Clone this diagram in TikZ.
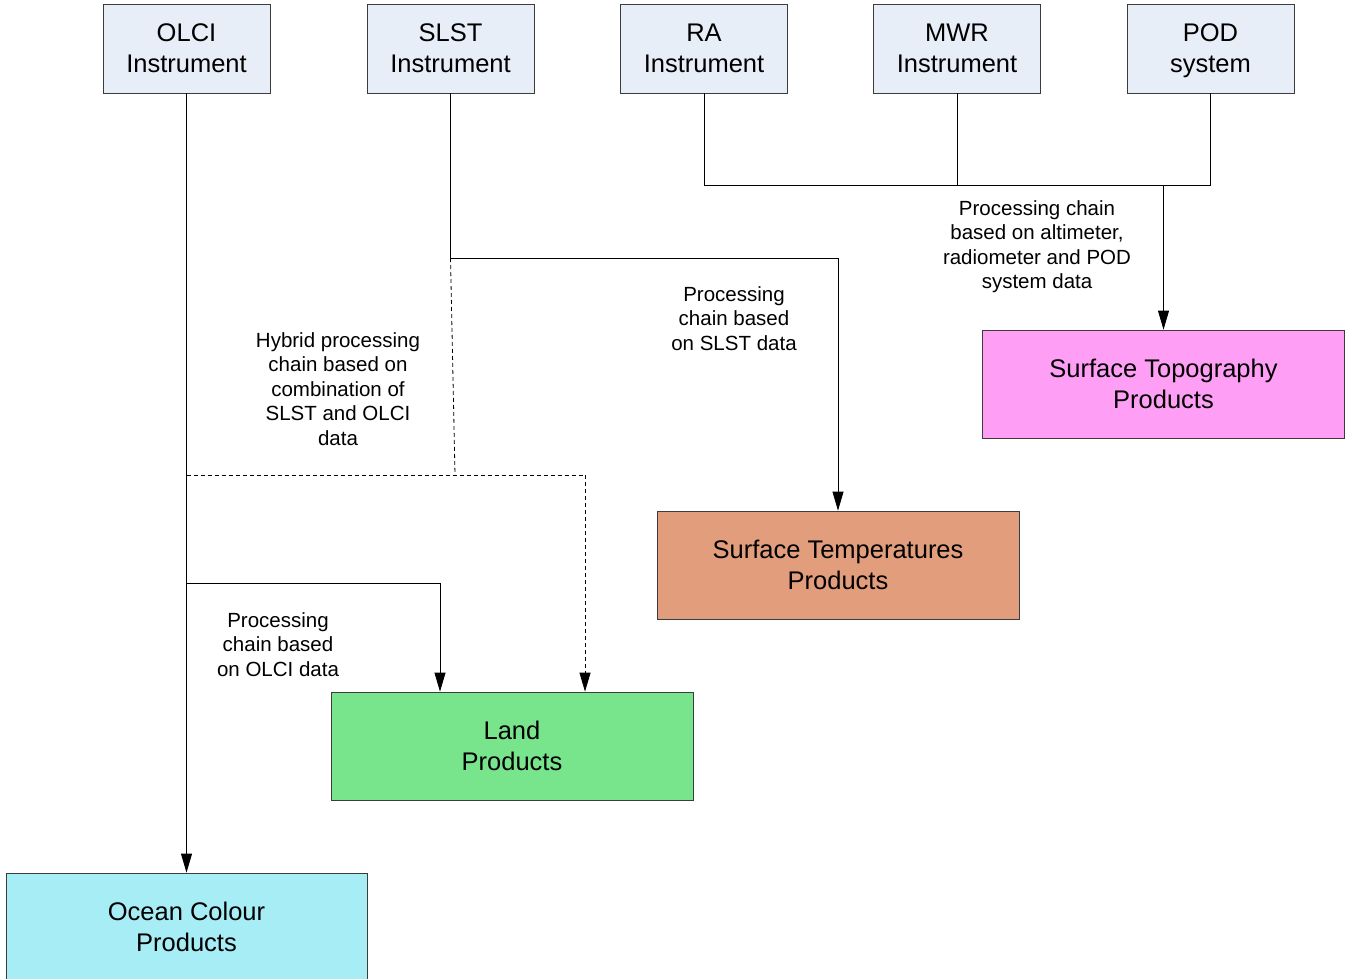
\documentclass[tikz,border=0pt]{standalone}
\usepackage{fontspec}
\setmainfont{Liberation Sans}
\usetikzlibrary{arrows.meta}
\definecolor{instfill}{RGB}{232,238,248}
\definecolor{topofill}{RGB}{255,158,245}
\definecolor{tempfill}{RGB}{226,157,125}
\definecolor{landfill}{RGB}{120,228,140}
\definecolor{oceanfill}{RGB}{166,237,246}
\definecolor{boxline}{RGB}{60,60,60}
\tikzset{
  instbox/.style={draw=boxline, line width=0.8pt, fill=instfill, minimum width=167pt, minimum height=89pt, inner sep=0pt, align=center, font=\fontsize{25.5}{31}\selectfont},
  prodbox/.style={draw=boxline, line width=0.8pt, minimum width=362pt, minimum height=108pt, inner sep=0pt, align=center, font=\fontsize{25.5}{31}\selectfont},
  lbl/.style={align=center, inner sep=0pt, font=\fontsize{20.5}{24.5}\selectfont},
  conn/.style={draw=black, line width=0.8pt},
  arr/.style={conn, -{Triangle[length=19pt,width=11pt]}},
  dconn/.style={conn, dash pattern=on 4pt off 3pt},
  darr/.style={dconn, -{Triangle[length=19pt,width=11pt]}}
}
\begin{document}
\begin{tikzpicture}[x=1pt,y=-1pt]
\useasboundingbox[fill=white] (0,0) rectangle (1346,978);
% instruments
\node[instbox] (olci) at (186.5,48.5) {OLCI\\Instrument};
\node[instbox] (slst) at (450.5,48.5) {SLST\\Instrument};
\node[instbox] (ra) at (704,48.5) {RA\\Instrument};
\node[instbox] (mwr) at (957,48.5) {MWR\\Instrument};
\node[instbox] (pod) at (1210.5,48.5) {POD\\\raisebox{0pt}[\height][0pt]{system}};
% products
\node[prodbox, fill=topofill] (topo) at (1163.5,384) {Surface Topography\\Products};
\node[prodbox, fill=tempfill] (temp) at (838,565) {Surface Temperatures\\Products};
\node[prodbox, fill=landfill] (land) at (512,746) {Land\\Products};
\node[prodbox, fill=oceanfill, minimum width=361pt] (ocean) at (186.5,927) {Ocean Colour\\Products};
% junction coordinates
\coordinate (raj) at (704,185);
\coordinate (mwrj) at (957,185);
\coordinate (podj) at (1210.5,185);
\coordinate (topj) at (1163.5,185);
\coordinate (slstj) at (450.5,258);
\coordinate (tempj) at (838,258);
\coordinate (hybj) at (455,475);
\coordinate (olcij) at (186.5,475);
\coordinate (landdj) at (585,475);
\coordinate (olcil) at (186.5,583);
\coordinate (landj) at (440,583);
% connectors
\draw[arr] (olci.south) -- (ocean.north);
\draw[conn] (olcil) -- (landj);
\draw[arr] (landj) -- (landj |- land.north);
\draw[conn] (slst.south) -- (slstj) -- (tempj);
\draw[arr] (tempj) -- (temp.north);
\draw[dconn] (slstj) -- (hybj);
\draw[dconn] (olcij) -- (landdj);
\draw[darr] (landdj) -- (landdj |- land.north);
\draw[conn] (ra.south) -- (raj) -- (podj) -- (pod.south);
\draw[conn] (mwr.south) -- (mwrj);
\draw[arr] (topj) -- (topo.north);
% labels
\node[lbl] (l1) at (1037,246.5) {Processing chain\\based on altimeter,\\radiometer and POD\\system data};
\node[lbl] (l2) at (734,318.5) {Processing\\chain based\\on SLST data};
\node[lbl] (l3) at (338,389) {Hybrid processing\\chain based on\\combination of\\SLST and OLCI\\data};
\node[lbl] (l4) at (278,644.5) {Processing\\chain based\\on OLCI data};
\end{tikzpicture}
\end{document}
